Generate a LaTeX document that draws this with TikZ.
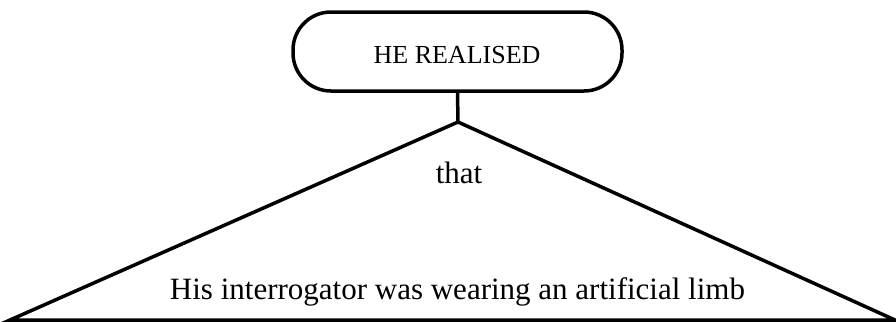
\documentclass[tikz,border=0pt]{standalone}
\usepackage{fontspec}
\setmainfont{Liberation Serif}
\tikzset{
  outline/.style={line width=3.5pt, black},
  ovalbox/.style={outline, draw, rounded corners=38pt, minimum width=329pt, minimum height=79pt, inner sep=0pt, font=\fontsize{26}{30}\selectfont},
  label/.style={inner sep=0pt, anchor=base, font=\fontsize{31}{36}\selectfont}
}
\begin{document}
\begin{tikzpicture}[x=1pt,y=-1pt]
\useasboundingbox (0,0) rectangle (896,322);
\node[ovalbox] (top) at (457.5,51.5) {};
\node[label, font=\fontsize{26}{30}\selectfont] (toptext) at (457,63) {HE REALISED};
\coordinate (apex) at (458,122);
\coordinate (bl) at (10,320);
\coordinate (br) at (895,320);
\draw[outline] (top.south) -- (apex);
\draw[outline, line join=miter] (apex) -- (bl) -- (br) -- cycle;
\node[label] (that) at (459,183) {that};
\node[label] (clause) at (457.5,299) {His interrogator was wearing an artificial limb};
\end{tikzpicture}
\end{document}
